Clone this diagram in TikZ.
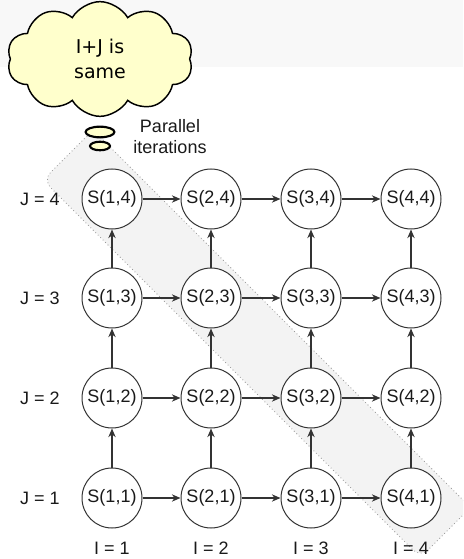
\documentclass[tikz,border=0pt]{standalone}
\usepackage{fontspec}
\setmainfont{Liberation Sans}
\newfontfamily\cloudfont{DejaVu Sans}
\usetikzlibrary{shapes.symbols,arrows.meta}
\definecolor{cloudyellow}{HTML}{FFFFCC}
\definecolor{bandgray}{HTML}{F3F3F3}
\definecolor{stripgray}{HTML}{F8F8F8}
\definecolor{ink}{HTML}{333333}
\tikzset{
  stnode/.style={circle,draw=ink,fill=white,line width=0.75pt,minimum size=45pt,inner sep=0pt,
    font=\fontsize{13.5pt}{16pt}\selectfont,text=black!90},
  lbl/.style={font=\fontsize{13.5pt}{16pt}\selectfont,text=black!90},
  arr/.style={draw=ink,line width=0.8pt,-{Stealth[length=6.5pt,width=5.5pt]}},
  bubble/.style={draw=black,fill=cloudyellow,line width=1.6pt},
}
\begin{document}
\begin{tikzpicture}[x=0.75pt,y=-0.75pt]
\useasboundingbox (0,0) rectangle (463,559);
\begin{scope}
\clip (0,0) rectangle (463,559);
\fill[stripgray] (0,0) rectangle (463,67);
\draw[fill=bandgray,draw=black!40,dotted,line width=0.6pt,rounded corners=8pt]
  (93,130) -- (470.5,507.5) -- (420.5,557.5) -- (43,180) -- cycle;
\end{scope}
% cloud
\node[cloud,cloud puffs=10,cloud puff arc=120,draw=black,fill=cloudyellow,line width=1.1pt,
  minimum width=139.5pt,minimum height=86pt,inner sep=0pt,align=center,
  font=\cloudfont\fontsize{14.25pt}{18.75pt}\selectfont] (cloud) at (100,59) {I+J is\\same};
\draw[bubble] (100,132) ellipse [x radius=10.8pt,y radius=4pt];
\draw[bubble] (100,146) ellipse [x radius=7.5pt,y radius=3.2pt];
\node[lbl,align=center,font=\fontsize{13.5pt}{15.75pt}\selectfont] (par) at (170,137) {Parallel\\iterations};
% nodes
\foreach \i/\x in {1/112,2/211,3/311,4/411}{
  \foreach \j/\y in {1/498,2/398,3/298,4/199}{
    \node[stnode] (s\i\j) at (\x,\y) {S(\i,\j)};
  }
  \node[lbl] (i\i) at (\x,548) {I = \i};
}
\foreach \j/\y in {1/498,2/398,3/298,4/199}{
  \node[lbl] (j\j) at (40,\y) {J = \j};
}
% arrows
\foreach \j in {1,2,3,4}{
  \draw[arr] (s1\j) -- (s2\j);
  \draw[arr] (s2\j) -- (s3\j);
  \draw[arr] (s3\j) -- (s4\j);
}
\foreach \i in {1,2,3,4}{
  \draw[arr] (s\i1) -- (s\i2);
  \draw[arr] (s\i2) -- (s\i3);
  \draw[arr] (s\i3) -- (s\i4);
}
\end{tikzpicture}
\end{document}
